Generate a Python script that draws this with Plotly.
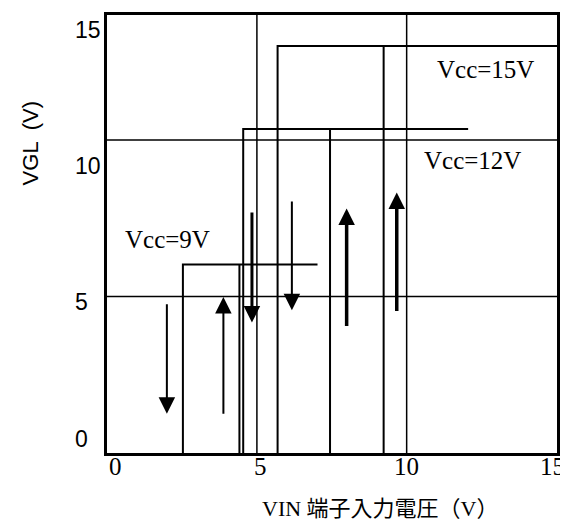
import plotly.graph_objects as go

# ---- data ----
vcc_labels = ["Vcc=9V", "Vcc=12V", "Vcc=15V"]
v_off = [2.19, 4.26, 5.44]        # falling threshold (V)
v_on = [4.13, 7.24, 9.08]         # rising threshold (V)
vgl_high = [6.39, 11.37, 14.41]   # VGL output high level (V)
vin_end = [6.81, 11.98, 15.03]    # end of the drawn high level (V)
vgl_low = -0.6                    # low level drawn down to the frame

ref_x = [4.73, 9.87]              # full-height reference lines (V)
ref_y = [5.22, 10.96]             # full-width reference lines (V)

arrow_x = [1.64, 3.58, 4.56, 5.93, 7.81, 9.53]
arrow_from = [4.99, 0.86, 8.36, 8.76, 4.08, 4.63]
arrow_to = [0.92, 5.20, 4.26, 4.71, 8.45, 9.04]
arrow_w = [2.0, 2.0, 3.0, 2.0, 3.5, 3.5]

x_ticks = [0, 5, 10, 15]
x_ticktext = ["0", "5", "10", "15"]
y_ticks = [0, 5, 10, 15]
y_ticktext = ["0", "5", "10", "15"]

XR = [-0.415, 15.03]
YR = [-0.525, 15.55]

fig = go.Figure()

# reference lines
for xv in ref_x:
    fig.add_trace(go.Scatter(x=[xv, xv], y=[YR[0] - 1, YR[1] + 1], mode="lines",
                             line=dict(color="black", width=1.5), hoverinfo="skip",
                             showlegend=False))
for yv in ref_y:
    fig.add_trace(go.Scatter(x=[XR[0] - 1, XR[1] + 1], y=[yv, yv], mode="lines",
                             line=dict(color="black", width=1.5), hoverinfo="skip",
                             showlegend=False))

# hysteresis curves
for i in range(len(vcc_labels)):
    xs = [v_off[i], v_off[i], vin_end[i], None, v_on[i], v_on[i]]
    ys = [vgl_low, vgl_high[i], vgl_high[i], None, vgl_high[i], vgl_low]
    fig.add_trace(go.Scatter(x=xs, y=ys, mode="lines", name=vcc_labels[i],
                             line=dict(color="black", width=2), showlegend=False))

annotations = []
for xa, y0, y1, w in zip(arrow_x, arrow_from, arrow_to, arrow_w):
    annotations.append(dict(x=xa, y=y1, ax=xa, ay=y0, xref="x", yref="y",
                            axref="x", ayref="y", text="", showarrow=True,
                            arrowhead=2, arrowwidth=w, arrowsize=3.3 / w,
                            arrowcolor="black"))

serif = "Liberation Serif, Noto Sans CJK JP, serif"
sans = "Liberation Sans, Arial, sans-serif"

# curve labels
annotations.append(dict(x=10.84, y=13.56, xref="x", yref="y", text="Vcc=15V",
                        showarrow=False, xanchor="left", yanchor="middle",
                        font=dict(family=serif, size=25, color="black")))
annotations.append(dict(x=10.39, y=10.22, xref="x", yref="y", text="Vcc=12V",
                        showarrow=False, xanchor="left", yanchor="middle",
                        font=dict(family=serif, size=25, color="black")))
annotations.append(dict(x=0.15, y=7.30, xref="x", yref="y", text="Vcc=9V",
                        showarrow=False, xanchor="left", yanchor="middle",
                        font=dict(family=serif, size=25, color="black")))

# y tick labels (left aligned as in the reference)
for v, t in zip(y_ticks, y_ticktext):
    annotations.append(dict(x=-0.0756, y=v, xref="paper", yref="y", text=t,
                            showarrow=False, xanchor="left", yanchor="middle",
                            font=dict(family=sans, size=23, color="black")))

# x tick labels
for v, t in zip(x_ticks, x_ticktext):
    annotations.append(dict(x=v, y=-0.0317, xref="x", yref="paper", text=t,
                            showarrow=False, xanchor="center", yanchor="middle",
                            xshift=-4,
                            font=dict(family=serif, size=25, color="black")))

# axis titles
annotations.append(dict(x=-0.171, y=0.707, xref="paper", yref="paper",
                        text="VGL\u2002(V)", textangle=-90, showarrow=False,
                        xanchor="center", yanchor="middle",
                        font=dict(family=sans, size=22, color="black")))
annotations.append(dict(x=0.607, y=-0.127, xref="paper", yref="paper",
                        text="VIN 端子入力電圧（V）", showarrow=False,
                        xanchor="center", yanchor="middle",
                        font=dict(family=serif, size=22, color="black")))

# page body has an 8px margin, so the figure is sized/offset to compensate
fig.update_layout(
    width=560, height=513,
    margin=dict(l=99, r=11, t=4, b=68),
    paper_bgcolor="white", plot_bgcolor="white",
    annotations=annotations,
    showlegend=False,
)
fig.update_xaxes(range=XR, showticklabels=False,
                 showgrid=False, zeroline=False, showline=True, mirror=True,
                 linewidth=3, linecolor="black", ticks="")
fig.update_yaxes(range=YR, showticklabels=False,
                 showgrid=False, zeroline=False, showline=True, mirror=True,
                 linewidth=3, linecolor="black", ticks="")

fig.write_html("out.html")
